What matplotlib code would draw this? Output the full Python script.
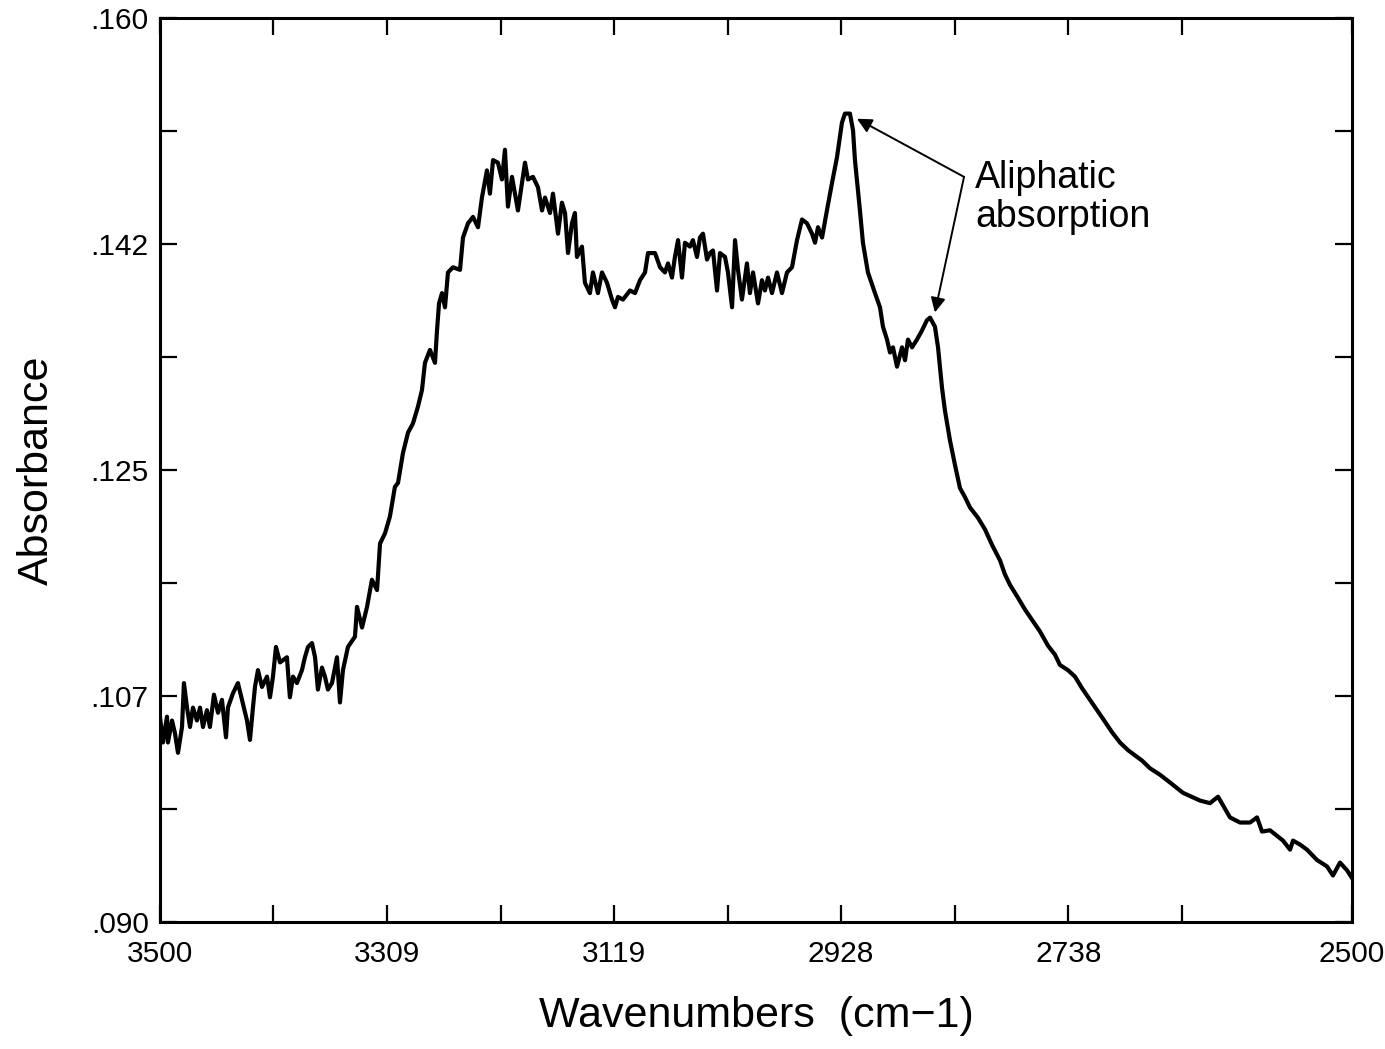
import matplotlib
matplotlib.use("Agg")
import matplotlib.pyplot as plt

plt.rcParams['font.family'] = ['Liberation Sans', 'DejaVu Sans']

# spectrum (wavenumber in cm-1, absorbance)
wavenumber = [
    3500.0, 3497.5, 3494.1, 3493.3, 3489.9, 3487.4, 3484.9, 3481.5, 3479.9, 3477.3,
    3474.8, 3472.3, 3469.0, 3466.4, 3463.9, 3460.6, 3458.1, 3454.7, 3451.3, 3448.0,
    3444.6, 3443.0, 3438.8, 3434.6, 3431.2, 3427.0, 3424.5, 3422.0, 3420.3, 3417.8,
    3414.4, 3410.2, 3407.7, 3405.2, 3402.7, 3399.3, 3393.5, 3391.0, 3388.4, 3385.1,
    3380.9, 3378.4, 3375.8, 3372.5, 3369.9, 3367.5, 3364.1, 3361.6, 3359.1, 3355.7,
    3351.5, 3349.0, 3346.5, 3342.3, 3336.4, 3334.7, 3330.5, 3326.3, 3322.2, 3317.9,
    3315.4, 3311.2, 3307.1, 3302.9, 3300.3, 3296.2, 3291.9, 3287.8, 3283.6, 3280.2,
    3277.7, 3273.5, 3269.3, 3267.6, 3265.9, 3263.4, 3260.9, 3258.4, 3254.2, 3248.3,
    3245.8, 3241.6, 3237.4, 3233.2, 3229.9, 3225.7, 3223.2, 3220.6, 3216.5, 3213.1,
    3210.6, 3208.1, 3204.7, 3199.7, 3196.3, 3193.8, 3191.3, 3187.1, 3182.9, 3179.5,
    3177.0, 3172.8, 3170.3, 3166.1, 3162.8, 3160.2, 3157.7, 3154.4, 3151.9, 3150.2,
    3146.0, 3143.5, 3139.3, 3136.8, 3132.6, 3129.2, 3125.0, 3120.8, 3118.3, 3115.8,
    3111.6, 3105.7, 3101.5, 3097.3, 3093.1, 3090.6, 3084.7, 3080.5, 3076.4, 3073.8,
    3070.5, 3068.0, 3065.4, 3062.1, 3059.6, 3055.4, 3052.9, 3049.5, 3047.0, 3044.5,
    3041.1, 3038.6, 3036.1, 3032.7, 3030.2, 3026.0, 3023.5, 3020.1, 3017.6, 3015.1,
    3011.8, 3007.6, 3005.1, 3002.5, 2998.3, 2995.0, 2992.5, 2989.9, 2986.6, 2982.4,
    2978.2, 2974.0, 2969.8, 2965.6, 2961.4, 2957.2, 2953.0, 2950.5, 2948.0, 2944.6,
    2940.5, 2936.3, 2932.1, 2927.9, 2925.4, 2921.2, 2918.6, 2917.0, 2912.8, 2910.3,
    2906.1, 2900.2, 2896.0, 2893.5, 2890.1, 2887.6, 2885.1, 2881.7, 2877.5, 2875.0,
    2872.5, 2869.1, 2865.0, 2860.8, 2856.6, 2854.0, 2849.9, 2847.3, 2844.0, 2841.5,
    2837.3, 2833.1, 2828.9, 2824.7, 2820.5, 2813.8, 2807.9, 2802.0, 2795.3, 2791.1,
    2786.9, 2780.2, 2774.4, 2768.5, 2761.8, 2755.1, 2749.2, 2745.0, 2738.3, 2732.4,
    2726.5, 2719.8, 2713.1, 2707.2, 2701.4, 2694.7, 2687.9, 2682.1, 2676.2, 2669.5,
    2661.1, 2652.7, 2641.8, 2627.5, 2619.2, 2612.4, 2602.4, 2594.0, 2585.6, 2579.7,
    2575.5, 2568.8, 2557.9, 2552.0, 2549.5, 2543.7, 2537.8, 2529.4, 2521.0, 2516.0,
    2510.1, 2504.2, 2500.0,
]
absorbance = [
    0.1059, 0.1039, 0.1059, 0.1039, 0.1056, 0.1046, 0.1031, 0.1051, 0.1085, 0.1066,
    0.1051, 0.1066, 0.1056, 0.1066, 0.1051, 0.1064, 0.1051, 0.1076, 0.1062, 0.1072,
    0.1043, 0.1066, 0.1077, 0.1085, 0.1072, 0.1056, 0.1041, 0.1066, 0.1082, 0.1095,
    0.1082, 0.1090, 0.1074, 0.1090, 0.1113, 0.1101, 0.1105, 0.1074, 0.1090, 0.1085,
    0.1095, 0.1105, 0.1113, 0.1116, 0.1105, 0.1080, 0.1097, 0.1090, 0.1080, 0.1085,
    0.1105, 0.1070, 0.1095, 0.1113, 0.1121, 0.1144, 0.1128, 0.1144, 0.1165, 0.1157,
    0.1193, 0.1201, 0.1214, 0.1237, 0.1240, 0.1263, 0.1279, 0.1286, 0.1299, 0.1312,
    0.1333, 0.1343, 0.1333, 0.1358, 0.1379, 0.1387, 0.1376, 0.1403, 0.1407, 0.1405,
    0.1430, 0.1441, 0.1446, 0.1438, 0.1461, 0.1482, 0.1464, 0.1490, 0.1488, 0.1475,
    0.1498, 0.1454, 0.1477, 0.1451, 0.1472, 0.1488, 0.1475, 0.1477, 0.1469, 0.1451,
    0.1461, 0.1449, 0.1464, 0.1433, 0.1457, 0.1449, 0.1418, 0.1441, 0.1449, 0.1415,
    0.1423, 0.1395, 0.1387, 0.1403, 0.1387, 0.1403, 0.1395, 0.1382, 0.1376, 0.1384,
    0.1382, 0.1389, 0.1387, 0.1397, 0.1403, 0.1418, 0.1418, 0.1407, 0.1403, 0.1410,
    0.1399, 0.1415, 0.1428, 0.1399, 0.1426, 0.1423, 0.1428, 0.1415, 0.1430, 0.1433,
    0.1413, 0.1418, 0.1420, 0.1389, 0.1418, 0.1415, 0.1403, 0.1376, 0.1428, 0.1405,
    0.1382, 0.1410, 0.1387, 0.1403, 0.1379, 0.1397, 0.1389, 0.1399, 0.1387, 0.1403,
    0.1387, 0.1403, 0.1407, 0.1428, 0.1444, 0.1441, 0.1433, 0.1426, 0.1438, 0.1430,
    0.1451, 0.1472, 0.1492, 0.1519, 0.1526, 0.1526, 0.1513, 0.1490, 0.1451, 0.1426,
    0.1403, 0.1387, 0.1376, 0.1361, 0.1351, 0.1341, 0.1345, 0.1330, 0.1345, 0.1335,
    0.1351, 0.1345, 0.1351, 0.1358, 0.1366, 0.1368, 0.1361, 0.1345, 0.1314, 0.1296,
    0.1273, 0.1254, 0.1236, 0.1229, 0.1221, 0.1213, 0.1204, 0.1192, 0.1180, 0.1169,
    0.1161, 0.1151, 0.1142, 0.1134, 0.1125, 0.1114, 0.1107, 0.1099, 0.1095, 0.1090,
    0.1081, 0.1072, 0.1063, 0.1055, 0.1047, 0.1039, 0.1033, 0.1029, 0.1025, 0.1019,
    0.1014, 0.1008, 0.1000, 0.0994, 0.0992, 0.0997, 0.0981, 0.0977, 0.0977, 0.0981,
    0.0970, 0.0971, 0.0963, 0.0956, 0.0963, 0.0960, 0.0956, 0.0948, 0.0943, 0.0936,
    0.0946, 0.0940, 0.0934,
]

x_ticks = [3500, 3404.8, 3309.5, 3214.3, 3119.0, 3023.8, 2928.6, 2833.3, 2738.1, 2642.9, 2500]
x_labels = ['3500', '', '3309', '', '3119', '', '2928', '', '2738', '', '2500']
y_ticks = [0.090, 0.09875, 0.1075, 0.11625, 0.125, 0.13375, 0.1425, 0.15125, 0.160]
y_labels = ['.090', '', '.107', '', '.125', '', '.142', '', '.160']

fig = plt.figure(figsize=(13.85, 10.49), dpi=100)
ax = fig.add_axes([0.1155, 0.1211, 0.8607, 0.8617])

ax.plot(wavenumber, absorbance, color='black', lw=3.0, solid_joinstyle='round')

ax.set_xlim(3500, 2500)
ax.set_ylim(0.090, 0.160)

ax.set_xticks(x_ticks)
ax.set_xticklabels(x_labels)
ax.set_yticks(y_ticks)
ax.set_yticklabels(y_labels)
ax.tick_params(direction='in', length=12, width=1.6, top=True, right=True,
               labelsize=21.5, colors='black')
ax.tick_params(axis='x', pad=13)
ax.tick_params(axis='y', pad=8)

for s in ax.spines.values():
    s.set_linewidth(2.2)

ax.set_xlabel('Wavenumbers  (cm\u22121)', fontsize=31, labelpad=20)
ax.set_ylabel('Absorbance', fontsize=31, labelpad=24)

# annotation for the two aliphatic peaks
ax.text(2816, 0.1461, 'Aliphatic\nabsorption', fontsize=27, ha='left', va='center',
        linespacing=1.1)
arrow = dict(arrowstyle='-|>', color='black', lw=1.4, mutation_scale=22,
             shrinkA=0, shrinkB=0)
ax.annotate('', xy=(2915.3, 0.1522), xytext=(2825.5, 0.1477), arrowprops=arrow)
ax.annotate('', xy=(2849.9, 0.1372), xytext=(2825.5, 0.1477), arrowprops=arrow)

fig.savefig('out.png', dpi=100)
plt.close(fig)
